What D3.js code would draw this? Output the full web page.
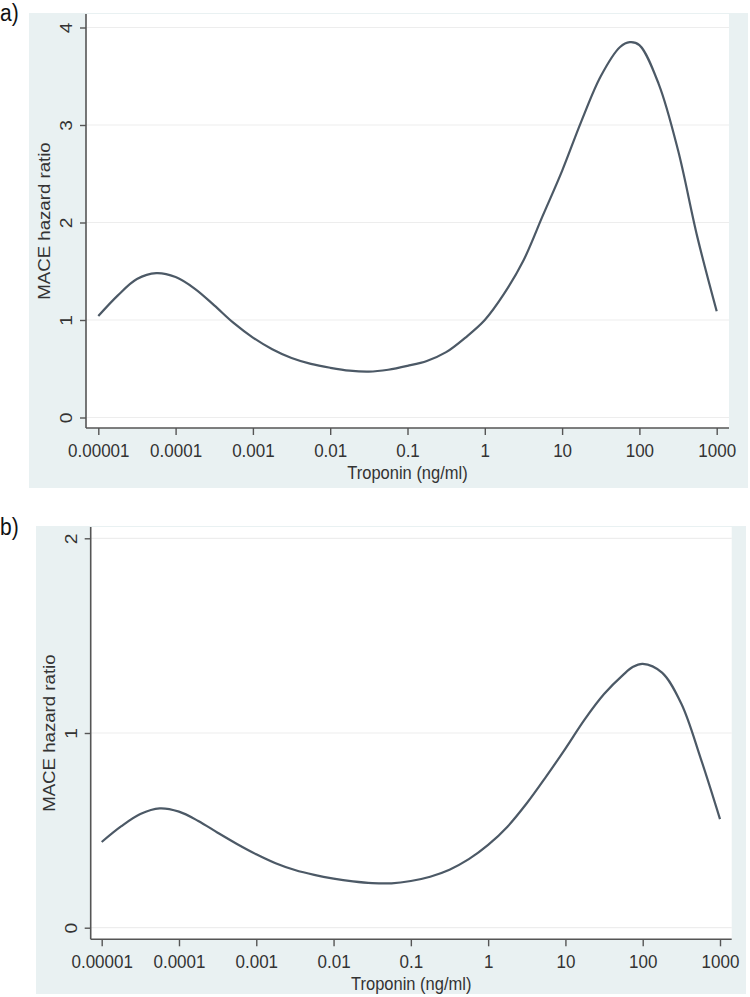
<!DOCTYPE html>
<html>
<head>
<meta charset="utf-8">
<script src="https://cdn.jsdelivr.net/npm/d3@7"></script>
<style>
  body { margin: 0; background: #fff; }
  svg { display: block; font-family: "Liberation Sans", Arial, sans-serif; }
</style>
</head>
<body>
<svg id="chart" width="750" height="997"></svg>
<script>
var logTroponin = [-5, -4.75, -4.5, -4.25, -4, -3.75, -3.5, -3.25, -3, -2.75, -2.5, -2.25, -2,
  -1.75, -1.5, -1.25, -1, -0.75, -0.5, -0.25, 0, 0.25, 0.5, 0.75, 1, 1.25, 1.5, 1.75, 1.875, 2,
  2.25, 2.5, 2.75, 3];

// panel a) hazard ratio
var hrA = [1.04, 1.25, 1.42, 1.48, 1.44, 1.32, 1.15, 0.97, 0.82, 0.70, 0.61, 0.55, 0.51,
  0.48, 0.47, 0.49, 0.53, 0.58, 0.67, 0.82, 1.00, 1.27, 1.61, 2.07, 2.53, 3.04, 3.50, 3.80, 3.85, 3.82,
  3.42, 2.74, 1.85, 1.09];

// panel b) hazard ratio
var hrB = [0.44, 0.52, 0.584, 0.613, 0.596, 0.548, 0.488, 0.43, 0.377, 0.331, 0.296, 0.271, 0.252,
  0.238, 0.229, 0.228, 0.240, 0.262, 0.298, 0.352, 0.425, 0.519, 0.639, 0.776, 0.92, 1.07, 1.20, 1.30, 1.34, 1.355,
  1.31, 1.15, 0.87, 0.558];

var xTicks = [1e-5, 1e-4, 1e-3, 1e-2, 1e-1, 1, 10, 100, 1000];
var xTickLabels = ["0.00001", "0.0001", "0.001", "0.01", "0.1", "1", "10", "100", "1000"];
var yTicksA = [0, 1, 2, 3, 4];
var yTicksB = [0, 1, 2];

var stretch = 1.13; // the source image is a bit taller than wide

var svg = d3.select("#chart");

function drawPanel(opts){
  var g = svg.append("g");

  // graph region
  g.append("rect")
    .attr("x", opts.bg[0]).attr("y", opts.bg[1])
    .attr("width", opts.bg[2] - opts.bg[0]).attr("height", opts.bg[3] - opts.bg[1])
    .attr("fill", "#e9f1f2");

  // plot region
  g.append("rect")
    .attr("x", opts.plot[0]).attr("y", opts.plot[1])
    .attr("width", opts.plot[2] - opts.plot[0]).attr("height", opts.plot[3] - opts.plot[1])
    .attr("fill", "#fff");

  var x = d3.scaleLog().domain([1e-5, 1000]).range(opts.xrange);
  var y = d3.scaleLinear().domain(opts.ydomain).range(opts.yrange);

  // gridlines
  g.selectAll(".grid").data(opts.yticks).enter().append("line")
    .attr("x1", opts.plot[0]).attr("x2", opts.plot[2])
    .attr("y1", function(d){ return y(d); }).attr("y2", function(d){ return y(d); })
    .attr("stroke", "#ededed").attr("stroke-width", 1.2);

  // curve
  var line = d3.line()
    .x(function(d, i){ return x(Math.pow(10, logTroponin[i])); })
    .y(function(d){ return y(d); })
    .curve(d3.curveCatmullRom.alpha(0.5));

  g.append("path")
    .attr("d", line(opts.values))
    .attr("fill", "none")
    .attr("stroke", "#4c5966")
    .attr("stroke-width", 2.2);

  // axes
  var xAxis = d3.axisBottom(x).tickValues(xTicks).tickSize(7)
    .tickFormat(function(d, i){ return xTickLabels[i]; });

  var gx = g.append("g")
    .attr("transform", "translate(0," + opts.plot[3] + ")")
    .call(xAxis);
  gx.select(".domain").remove();
  gx.selectAll(".tick line").attr("stroke", "#555").attr("stroke-width", 1.4);
  gx.selectAll(".tick text").attr("fill", "#333").attr("font-size", 17)
    .attr("font-family", "Liberation Sans, Arial, sans-serif")
    .attr("y", 25.6).attr("dy", 0)
    .attr("transform", "scale(1," + stretch + ")");

  var yAxis = d3.axisLeft(y).tickValues(opts.yticks).tickSize(6).tickFormat(d3.format("d"));
  var gy = g.append("g")
    .attr("transform", "translate(" + opts.plot[0] + ",0)")
    .call(yAxis);
  gy.select(".domain").remove();
  gy.selectAll(".tick line").attr("stroke", "#555").attr("stroke-width", 1.4);
  gy.selectAll(".tick text")
    .attr("fill", "#333").attr("font-size", 17)
    .attr("font-family", "Liberation Sans, Arial, sans-serif")
    .attr("transform", "rotate(-90) scale(" + stretch + ",1)")
    .attr("x", 0).attr("y", -14).attr("dy", 0)
    .attr("text-anchor", "middle");

  // axis lines
  g.append("line")
    .attr("x1", opts.plot[0]).attr("x2", opts.plot[2])
    .attr("y1", opts.plot[3]).attr("y2", opts.plot[3])
    .attr("stroke", "#555").attr("stroke-width", 1.6);
  g.append("line")
    .attr("x1", opts.plot[0]).attr("x2", opts.plot[0])
    .attr("y1", opts.plot[1]).attr("y2", opts.plot[3])
    .attr("stroke", "#555").attr("stroke-width", 1.6);

  // titles
  g.append("text")
    .attr("transform", "translate(" + ((opts.plot[0] + opts.plot[2]) / 2) + "," + (opts.plot[3] + 50.5) + ") scale(1," + stretch + ")")
    .attr("text-anchor", "middle")
    .attr("font-size", 16.5).attr("fill", "#333")
    .text("Troponin (ng/ml)");

  g.append("text")
    .attr("transform", "translate(" + (opts.plot[0] - 36) + "," + ((opts.plot[1] + opts.plot[3]) / 2) + ") rotate(-90) scale(" + stretch + ",1)")
    .attr("text-anchor", "middle")
    .attr("font-size", 16.5).attr("fill", "#333")
    .text("MACE hazard ratio");

  g.append("text")
    .attr("transform", "translate(0," + opts.tag[1] + ") scale(1," + stretch + ")")
    .attr("font-size", 21).attr("fill", "#111")
    .text(opts.tag[0]);
}

drawPanel({
  bg: [29, 13, 748, 488],
  plot: [86, 14, 729, 428],
  xrange: [98.3, 716.7],
  ydomain: [0, 4],
  yrange: [417.5, 27.5],
  yticks: yTicksA,
  values: hrA,
  tag: ["a)", 21]
});

drawPanel({
  bg: [36, 526, 746, 994],
  plot: [90.7, 527, 731.7, 939.3],
  xrange: [101.7, 720],
  ydomain: [0, 2],
  yrange: [927.7, 538.3],
  yticks: yTicksB,
  values: hrB,
  tag: ["b)", 535]
});
</script>
</body>
</html>
